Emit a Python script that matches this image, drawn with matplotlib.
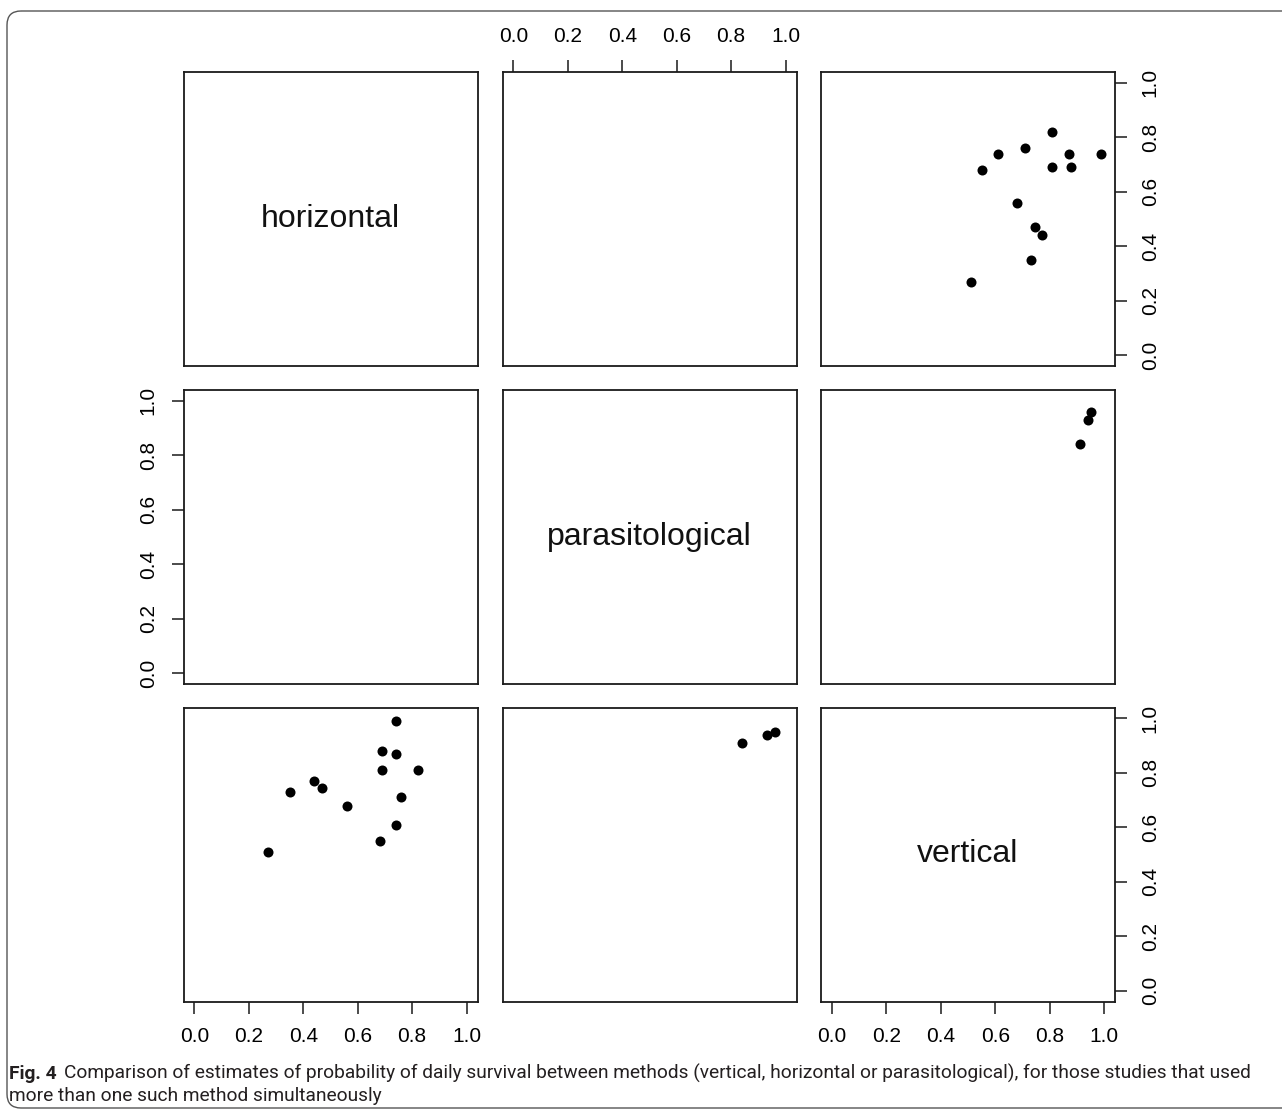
import numpy as np
import matplotlib
matplotlib.use("Agg")
import matplotlib.pyplot as plt
from matplotlib import font_manager
from matplotlib.patches import FancyBboxPatch

# estimates of probability of daily survival, one entry per study (nan = method not used)
nan = np.nan
horizontal = [0.74, 0.69, 0.74, 0.69, 0.82, 0.44, 0.47, 0.35, 0.76, 0.56, 0.74, 0.68, 0.27, nan, nan, nan]
parasitological = [nan, nan, nan, nan, nan, nan, nan, nan, nan, nan, nan, nan, nan, 0.84, 0.93, 0.96]
vertical = [0.99, 0.88, 0.87, 0.81, 0.81, 0.77, 0.745, 0.73, 0.71, 0.68, 0.61, 0.55, 0.51, 0.91, 0.94, 0.95]

var_names = ['horizontal', 'parasitological', 'vertical']
tick_values = [0.0, 0.2, 0.4, 0.6, 0.8, 1.0]
tick_labels = ['0.0', '0.2', '0.4', '0.6', '0.8', '1.0']

caption_bold = 'Fig. 4'
caption_line1 = ('Comparison of estimates of probability of daily survival between methods '
                 '(vertical, horizontal or parasitological), for those studies that used')
caption_line2 = 'more than one such method simultaneously'

W, H = 1282, 1111
fig = plt.figure(figsize=(W / 100, H / 100), dpi=100)
fig.patch.set_facecolor('white')

# background axes in pixel coordinates for the frame and caption
bg = fig.add_axes([0, 0, 1, 1], zorder=-1)
bg.set_xlim(0, W)
bg.set_ylim(H, 0)
bg.axis('off')
frame = FancyBboxPatch((7, 11), W + 40, 1097, boxstyle='round,pad=0,rounding_size=14',
                       fill=False, edgecolor='#555555', linewidth=1.0)
bg.add_patch(frame)

cols = [(183.5, 477.5), (502.5, 796.5), (821, 1115)]
rows = [(72, 366), (390, 684), (707.5, 1001.5)]
data = [horizontal, parasitological, vertical]
line_col = '#1a1a1a'
tick_font = dict(family=['Liberation Sans', 'DejaVu Sans'], size=15)

n = 3
for i in range(n):
    for j in range(n):
        x0, x1 = cols[j]
        y0, y1 = rows[i]
        ax = fig.add_axes([x0 / W, 1 - y1 / H, (x1 - x0) / W, (y1 - y0) / H])
        ax.set_xlim(-0.04, 1.04)
        ax.set_ylim(-0.04, 1.04)
        for sp in ax.spines.values():
            sp.set_linewidth(1.3)
            sp.set_color(line_col)
        ax.set_xticks(tick_values)
        ax.set_yticks(tick_values)
        ax.tick_params(which='both', bottom=False, top=False, left=False, right=False,
                       labelbottom=False, labeltop=False, labelleft=False, labelright=False,
                       length=8.6, width=1.1, color=line_col, pad=10)

        if i == j:
            ax.text(0.5, 0.5, var_names[i], transform=ax.transAxes, ha='center', va='center',
                    family=['Liberation Sans', 'DejaVu Sans'], size=23, color='#111111')
        else:
            ax.scatter(data[j], data[i], s=52, color='black', linewidths=0, zorder=3)

        # R pairs() style alternating axes
        if i == 0 and (j + 1) % 2 == 0:
            ax.tick_params(axis='x', top=True, labeltop=True)
            ax.set_xticklabels(tick_labels, fontdict=tick_font)
        if i == n - 1 and (j + 1) % 2 == 1:
            ax.tick_params(axis='x', bottom=True, labelbottom=True)
            ax.set_xticklabels(tick_labels, fontdict=tick_font)
        if j == 0 and (i + 1) % 2 == 0:
            ax.tick_params(axis='y', left=True, labelleft=True, labelrotation=90)
            ax.set_yticklabels(tick_labels, fontdict=tick_font, va='center')
        if j == n - 1 and (i + 1) % 2 == 1:
            ax.tick_params(axis='y', right=True, labelright=True, labelrotation=90)
            ax.set_yticklabels(tick_labels, fontdict=tick_font, va='center')

# caption font: first family that really has a bold face installed
bold_fams = {f.name for f in font_manager.fontManager.ttflist
             if (f.weight if isinstance(f.weight, int) else 400) >= 600 or f.weight == 'bold'}
cap_family = 'Liberation Sans'
for fam in ['Roboto', 'Open Sans', 'Noto Sans', 'Lato']:
    if fam in bold_fams:
        cap_family = fam
        break
cap_font = [cap_family, 'DejaVu Sans']
cap_col = '#231f20'
cap_size = 14.0

# fit the first caption line between x=9 and x=1262
tb = bg.text(9, 1079, caption_bold, ha='left', va='baseline', family=cap_font,
             weight='bold', size=cap_size, color=cap_col)
t1 = bg.text(0, 1079, caption_line1, ha='left', va='baseline', family=cap_font,
             size=cap_size, color=cap_col)
fig.canvas.draw()
full = tb.get_window_extent().width + 8 + t1.get_window_extent().width
cap_size = cap_size * (1262 - 9) / full
tb.set_fontsize(cap_size)
t1.set_fontsize(cap_size)
fig.canvas.draw()
t1.set_x(tb.get_window_extent().x1 + 7)
bg.text(9, 1101, caption_line2, ha='left', va='baseline', family=cap_font,
        size=cap_size, color=cap_col)

fig.savefig('out.png', dpi=100, facecolor='white')
